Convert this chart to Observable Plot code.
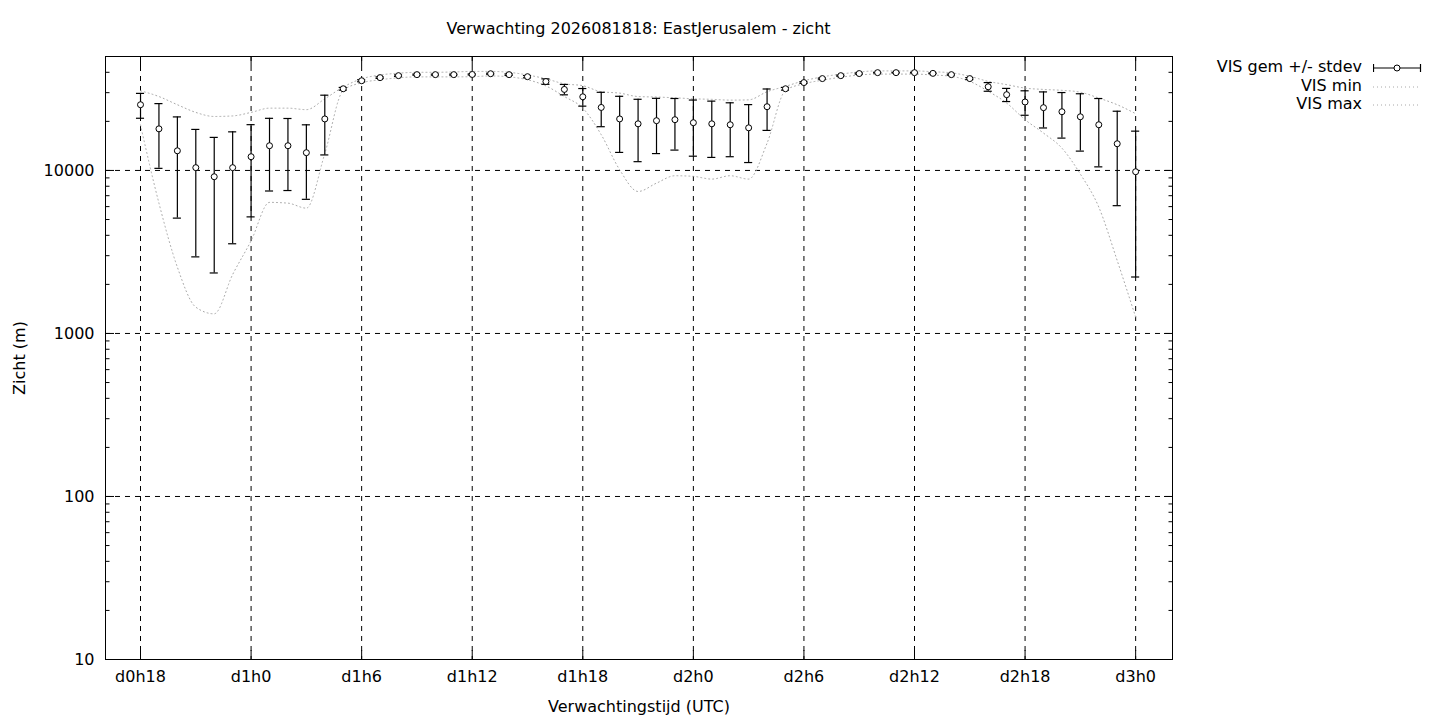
<!DOCTYPE html>
<html>
<head>
<meta charset="utf-8">
<script src="https://cdn.jsdelivr.net/npm/d3@7"></script>
<script src="https://cdn.jsdelivr.net/npm/@observablehq/plot@0.6"></script>
<style>
  html, body { margin: 0; padding: 0; background: white; }
  #wrap { position: relative; width: 1440px; height: 720px; font-family: "DejaVu Sans", sans-serif; font-size: 16px; color: #000; }
  #title { position: absolute; left: 105px; width: 1067px; top: 19px; text-align: center; white-space: nowrap; }
  #legend { position: absolute; left: 1100px; top: 58px; width: 330px; }
  .lrow { position: relative; height: 18.5px; }
  .lrow span { position: absolute; right: 68px; top: 0; white-space: nowrap; line-height: 18px; }
  .lrow svg { position: absolute; left: 273px; top: 0; }
</style>
</head>
<body>
<div id="wrap">
  <div id="chart"></div>
  <div id="title"></div>
  <div id="legend"></div>
</div>
<script>
// ---- data ----
const titleText = "Verwachting 2026081818: EastJerusalem - zicht";
const xLabel = "Verwachtingstijd (UTC)";
const yLabel = "Zicht (m)";
const legendLabels = ["VIS gem +/- stdev", "VIS min", "VIS max"];

const hours = [18,19,20,21,22,23,24,25,26,27,28,29,30,31,32,33,34,35,36,37,38,39,40,41,42,43,44,45,
               46,47,48,49,50,51,52,53,54,55,56,57,58,59,60,61,62,63,64,65,66,67,68,69,70,71,72];
const visMean = [25300,18000,13200,10400,9150,10400,12140,14180,14180,12850,20700,31700,35500,37100,
                 38150,38700,38700,38700,38800,39200,38700,37600,35100,31400,28300,24350,20700,19320,
                 20190,20480,19630,19320,19070,18260,24600,31700,34600,36600,38150,39300,39800,39800,
                 39800,39400,38700,36600,32600,29160,26300,24270,22920,21340,19070,14580,9820];
const visStdev = [4400,7700,8100,7450,6800,6850,6950,6700,6650,6200,8250,600,500,400,
                  400,300,300,300,300,300,400,600,1350,2300,3500,5800,7800,8000,
                  7500,7150,7400,7300,6930,7080,7000,600,400,300,300,300,200,200,
                  200,200,300,500,2000,2700,4500,6050,7130,8200,8550,8500,7600];
const visMin = [19000,6300,2550,1450,1320,2300,3700,6370,6300,5870,12700,31000,34500,36000,
                37000,37500,37500,37500,37600,38000,37500,36000,33000,28400,24100,16570,10100,7430,
                8360,9280,9200,8850,9280,8850,14700,31000,34000,35800,37300,38500,39000,39000,
                39000,38500,37800,35200,30600,25900,20480,16950,13700,9500,5960,2800,1260];
const visMax = [30800,28400,25300,22700,21430,21600,22700,24100,24100,23600,27500,32500,36500,38500,
                39500,40000,40000,40200,40500,40500,40000,38500,36500,34000,33100,30400,29800,28400,
                28200,27900,27500,27300,27000,27100,30400,32800,35500,37500,39000,40200,40800,40800,
                40800,40300,39700,37800,35200,33600,32000,31400,31000,30200,27800,25300,22300];

const xTickHours = [18,24,30,36,42,48,54,60,66,72];
const xTickLabels = ["d0h18","d1h0","d1h6","d1h12","d1h18","d2h0","d2h6","d2h12","d2h18","d3h0"];
const yTickValues = [10,100,1000,10000];
const yTickLabels = ["10","100","1000","10000"];
const yMinorTicks = [20,30,40,50,60,70,80,90,200,300,400,500,600,700,800,900,
                     2000,3000,4000,5000,6000,7000,8000,9000,20000,30000,40000,50000];

// ---- table built from the arrays ----
const data = hours.map((h, i) => ({h, mean: visMean[i], sd: visStdev[i], min: visMin[i], max: visMax[i]}));

const minStyle = {stroke: "#a8a8a8", strokeWidth: 1, strokeDasharray: "1,3"};
const capHalf = 0.22; // hours

const chart = Plot.plot({
  width: 1440,
  height: 720,
  marginLeft: 105,
  marginRight: 268,
  marginTop: 56,
  marginBottom: 61,
  style: {fontFamily: "DejaVu Sans", fontSize: "16px", background: "white", color: "black", overflow: "visible"},
  x: {domain: [16.1, 74]},
  y: {type: "log", domain: [10, 50000]},
  marks: [
    Plot.gridY(yTickValues.slice(1), {stroke: "black", strokeOpacity: 1, strokeWidth: 1, strokeDasharray: "5,5"}),
    Plot.gridX(xTickHours, {stroke: "black", strokeOpacity: 1, strokeWidth: 1, strokeDasharray: "5,5"}),
    Plot.line(data, {x: "h", y: "min", curve: "monotone-x", ...minStyle}),
    Plot.line(data, {x: "h", y: "max", curve: "monotone-x", ...minStyle}),
    Plot.ruleX(data, {x: "h", y1: d => d.mean - d.sd, y2: d => d.mean + d.sd, stroke: "black", strokeWidth: 1.2}),
    Plot.ruleY(data, {y: d => d.mean - d.sd, x1: d => d.h - capHalf, x2: d => d.h + capHalf, stroke: "black", strokeWidth: 1.2}),
    Plot.ruleY(data, {y: d => d.mean + d.sd, x1: d => d.h - capHalf, x2: d => d.h + capHalf, stroke: "black", strokeWidth: 1.2}),
    Plot.dot(data, {x: "h", y: "mean", r: 3, fill: "white", stroke: "black", strokeWidth: 1}),
    // x axis labels
    Plot.axisX(xTickHours, {anchor: "bottom", tickSize: 0, tickPadding: 11, fontSize: 16,
      tickFormat: d => xTickLabels[xTickHours.indexOf(d)],
      label: xLabel, labelAnchor: "center", labelArrow: "none", labelOffset: 52}),
    // x inward ticks bottom and top
    Plot.axisX(xTickHours, {anchor: "bottom", tickSize: -9, tickFormat: () => "", label: null}),
    Plot.axisX(xTickHours, {anchor: "top", tickSize: -9, tickFormat: () => "", label: null}),
    // y axis labels
    Plot.axisY(yTickValues, {anchor: "left", tickSize: 0, tickPadding: 11, fontSize: 16,
      tickFormat: d => yTickLabels[yTickValues.indexOf(d)],
      label: yLabel, labelAnchor: "center", labelArrow: "none", labelOffset: 92}),
    // y inward ticks left and right
    Plot.axisY(yTickValues, {anchor: "left", tickSize: -9, tickFormat: () => "", label: null}),
    Plot.axisY(yMinorTicks, {anchor: "left", tickSize: -4.5, tickFormat: () => "", label: null}),
    Plot.axisY(yTickValues, {anchor: "right", tickSize: -9, tickFormat: () => "", label: null}),
    Plot.axisY(yMinorTicks, {anchor: "right", tickSize: -4.5, tickFormat: () => "", label: null}),
    Plot.frame({stroke: "black", strokeWidth: 1})
  ]
});
document.getElementById("chart").appendChild(chart);
document.getElementById("title").textContent = titleText;

// ---- legend ----
const legend = d3.select("#legend");
legendLabels.forEach((lab, i) => {
  const row = legend.append("div").attr("class", "lrow");
  row.append("span").text(lab);
  const svg = row.append("svg").attr("width", 50).attr("height", 18);
  if (i === 0) {
    svg.append("line").attr("x1", 0.5).attr("x2", 47.5).attr("y1", 10).attr("y2", 10).attr("stroke", "black").attr("stroke-width", 1.2);
    svg.append("line").attr("x1", 0.5).attr("x2", 0.5).attr("y1", 6).attr("y2", 14).attr("stroke", "black").attr("stroke-width", 1.2);
    svg.append("line").attr("x1", 47.5).attr("x2", 47.5).attr("y1", 6).attr("y2", 14).attr("stroke", "black").attr("stroke-width", 1.2);
    svg.append("circle").attr("cx", 24).attr("cy", 10).attr("r", 3).attr("fill", "white").attr("stroke", "black");
  } else {
    svg.append("line").attr("x1", 0).attr("x2", 48).attr("y1", 10).attr("y2", 10)
      .attr("stroke", minStyle.stroke).attr("stroke-width", 1).attr("stroke-dasharray", minStyle.strokeDasharray);
  }
});
</script>
</body>
</html>
